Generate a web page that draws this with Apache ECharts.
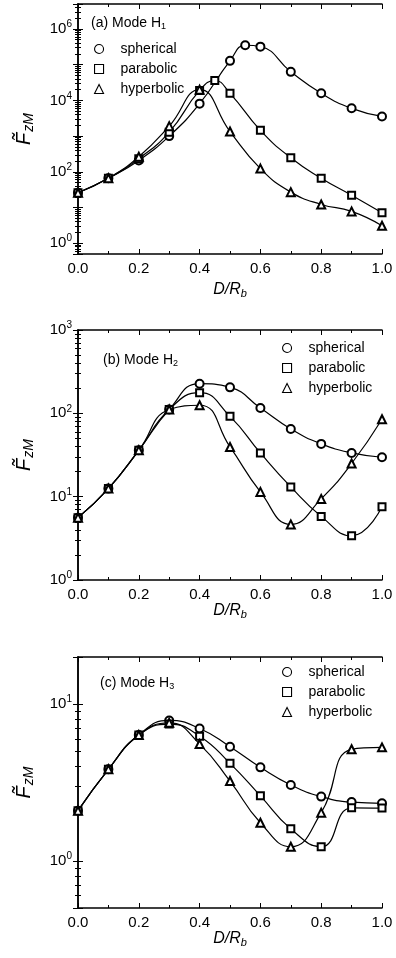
<!DOCTYPE html>
<html>
<head>
<meta charset="utf-8">
<script src="https://cdn.jsdelivr.net/npm/echarts@6/dist/echarts.min.js"></script>
<style>
  html, body { margin: 0; padding: 0; background: #fff; }
  #chart { width: 396px; height: 958px; }
</style>
</head>
<body>
<div id="chart"></div>
<script>
// Sample positions D/R_b
const xStd = [0, 0.1, 0.2, 0.3, 0.4, 0.5, 0.6, 0.7, 0.8, 0.9, 1.0];
const xTickLabels = ['0.0', '0.2', '0.4', '0.6', '0.8', '1.0'];
const seriesNames = ['spherical', 'parabolic', 'hyperbolic'];

// (a) Mode H1
const h1SphX = [0, 0.1, 0.2, 0.3, 0.4, 0.5, 0.55, 0.6, 0.7, 0.8, 0.9, 1.0];
const h1SphY = [26, 66, 209, 1000, 8100, 128000, 350000, 320000, 63000, 15800, 6000, 3560];
const h1ParX = [0, 0.1, 0.2, 0.3, 0.4, 0.45, 0.5, 0.6, 0.7, 0.8, 0.9, 1.0];
const h1ParY = [26, 66, 234, 1290, 19000, 36000, 15800, 1450, 247, 66, 22, 7.1];
const h1HypY = [26, 66, 265, 1900, 20000, 1340, 123, 27, 12.2, 7.8, 3.1];

// (b) Mode H2
const h2SphY = [5.6, 12.5, 36, 111, 227, 205, 116, 65, 43, 33.5, 29.7];
const h2ParY = [5.6, 12.5, 36, 111, 177, 92, 33.5, 13.1, 5.8, 3.4, 7.55];
const h2HypY = [5.6, 12.5, 36, 111, 125, 39.5, 11.4, 4.65, 9.4, 25, 85];

// (c) Mode H3
const h3SphY = [2.09, 3.84, 6.35, 7.87, 7.0, 5.35, 3.95, 3.05, 2.57, 2.37, 2.33];
const h3ParY = [2.09, 3.84, 6.35, 7.46, 6.25, 4.19, 2.6, 1.6, 1.23, 2.18, 2.17];
const h3HypY = [2.09, 3.84, 6.35, 7.6, 5.56, 3.23, 1.75, 1.23, 2.03, 5.15, 5.3];

// Vertical ranges of the three log axes
const yMins = [0.5, 1, 0.5];
const yMaxs = [5e6, 1000, 20];
const panelTitles = ['(a) Mode H{sub|1}', '(b) Mode H{sub|2}', '(c) Mode H{sub|3}'];

const FONT = "'Liberation Sans', Arial, sans-serif";
const BLACK = '#000';

const grids = [
  { left: 78, top: 4, width: 304, height: 250 },
  { left: 78, top: 330, width: 304, height: 250 },
  { left: 78, top: 657, width: 304, height: 251 }
];
const xNameGaps = [26, 21, 18];

function pairs(xs, ys) { return xs.map((x, i) => [x, ys[i]]); }

const panels = [
  [pairs(h1SphX, h1SphY), pairs(h1ParX, h1ParY), pairs(xStd, h1HypY)],
  [pairs(xStd, h2SphY), pairs(xStd, h2ParY), pairs(xStd, h2HypY)],
  [pairs(xStd, h3SphY), pairs(xStd, h3ParY), pairs(xStd, h3HypY)]
];
const symbols = ['emptyCircle', 'emptyRect', 'emptyTriangle'];
const legendIcons = ['circle', 'rect', 'triangle'];

const xAxes = [], yAxes = [], series = [], legends = [], titles = [];

grids.forEach((g, p) => {
  const frameLine = { show: true, lineStyle: { color: BLACK, width: 1.5 } };
  // bottom axis
  xAxes.push({
    type: 'value', gridIndex: p, min: 0, max: 1, interval: 0.2, position: 'bottom',
    axisLine: frameLine,
    axisTick: { show: true, inside: true, length: 5, lineStyle: { color: BLACK } },
    minorTick: { show: true, splitNumber: 2, length: 3, lineStyle: { color: BLACK } },
    splitLine: { show: false },
    axisLabel: {
      fontSize: 15, fontFamily: FONT, color: BLACK, margin: 7,
      formatter: v => xTickLabels[Math.round(v / 0.2)] || ''
    },
    name: '{i|D/R}{s|b}', nameLocation: 'middle', nameGap: xNameGaps[p],
    nameTextStyle: {
      rich: {
        i: { fontSize: 16, fontStyle: 'italic', fontFamily: FONT, color: BLACK },
        s: { fontSize: 11, fontStyle: 'italic', fontFamily: FONT, color: BLACK, padding: [8, 0, 0, 0] }
      }
    }
  });
  // top frame axis
  xAxes.push({
    type: 'value', gridIndex: p, min: 0, max: 1, interval: 0.2, position: 'top',
    axisLine: frameLine,
    axisTick: { show: true, inside: true, length: 5, lineStyle: { color: BLACK } },
    minorTick: { show: true, splitNumber: 2, length: 3, lineStyle: { color: BLACK } },
    splitLine: { show: false }, axisLabel: { show: false }
  });
  const yLabel = v => {
    const e = Math.log10(v);
    const r = Math.round(e);
    if (Math.abs(e - r) > 1e-6) return '';
    if (p === 0 && r % 2 !== 0) return '';
    return '{b|10}{e|' + r + '}';
  };
  // left axis
  yAxes.push({
    type: 'log', logBase: 10, gridIndex: p, min: yMins[p], max: yMaxs[p], position: 'left',
    axisLine: frameLine,
    axisTick: { show: true, inside: true, length: 5, lineStyle: { color: BLACK } },
    minorTick: { show: true, splitNumber: 9, length: 3, lineStyle: { color: BLACK } },
    splitLine: { show: false },
    axisLabel: {
      margin: 6, formatter: yLabel,
      rich: {
        b: { fontSize: 15, fontFamily: FONT, color: BLACK },
        e: { fontSize: 10, fontFamily: FONT, color: BLACK, padding: [0, 0, 9, 0] }
      }
    },
    name: '{f|F\u0303}{s|zM}', nameLocation: 'middle', nameRotate: 90, nameGap: 42,
    nameTextStyle: {
      rich: {
        f: { fontSize: 20, fontStyle: 'italic', fontFamily: FONT, color: BLACK },
        s: { fontSize: 14, fontStyle: 'italic', fontFamily: FONT, color: BLACK, padding: [9, 0, 0, 1] }
      }
    }
  });
  // right frame axis
  yAxes.push({
    type: 'log', logBase: 10, gridIndex: p, min: yMins[p], max: yMaxs[p], position: 'right',
    axisLine: frameLine,
    axisTick: { show: true, inside: true, length: 5, lineStyle: { color: BLACK } },
    minorTick: { show: true, splitNumber: 9, length: 3, lineStyle: { color: BLACK } },
    splitLine: { show: false }, axisLabel: { show: false }
  });

  panels[p].forEach((data, k) => {
    series.push({
      type: 'line', name: seriesNames[k], xAxisIndex: 2 * p, yAxisIndex: 2 * p,
      data: data, smooth: 0.5, symbol: symbols[k], symbolSize: k === 1 ? 7 : 8,
      lineStyle: { color: BLACK, width: 1.2 },
      itemStyle: { color: BLACK, borderWidth: 1 },
      emphasis: { disabled: true }, z: 3 + k
    });
  });
});

const legendPos = [
  { left: 94, top: 41 },
  { left: 282, top: 340 },
  { left: 282, top: 664 }
];
legendPos.forEach(pos => {
  legends.push({
    left: pos.left, top: pos.top, orient: 'vertical', padding: 0,
    itemWidth: 9, itemHeight: 9, itemGap: 4, selectedMode: false,
    data: seriesNames.map((n, k) => ({
      name: n, icon: legendIcons[k],
      itemStyle: { color: '#fff', borderColor: BLACK, borderWidth: 1.1 }
    })),
    itemStyle: { color: '#fff', borderColor: BLACK, borderWidth: 1.1 },
    textStyle: { fontSize: 14, fontFamily: FONT, color: BLACK, lineHeight: 16, padding: [0, 0, 0, 12] }
  });
});

const titlePos = [
  { left: 91, top: 15 },
  { left: 103, top: 352 },
  { left: 100, top: 675 }
];
titlePos.forEach((pos, p) => {
  titles.push({
    text: panelTitles[p], left: pos.left, top: pos.top, padding: 0,
    textStyle: {
      fontSize: 14, fontWeight: 'normal', fontFamily: FONT, color: BLACK,
      rich: {
        sub: { fontSize: 9, fontFamily: FONT, color: BLACK, padding: [7, 0, 0, 0] }
      }
    }
  });
});

const chart = echarts.init(document.getElementById('chart'), null, { renderer: 'canvas' });
chart.setOption({
  animation: false,
  backgroundColor: '#fff',
  title: titles,
  legend: legends,
  grid: grids,
  xAxis: xAxes,
  yAxis: yAxes,
  series: series
});
</script>
</body>
</html>
